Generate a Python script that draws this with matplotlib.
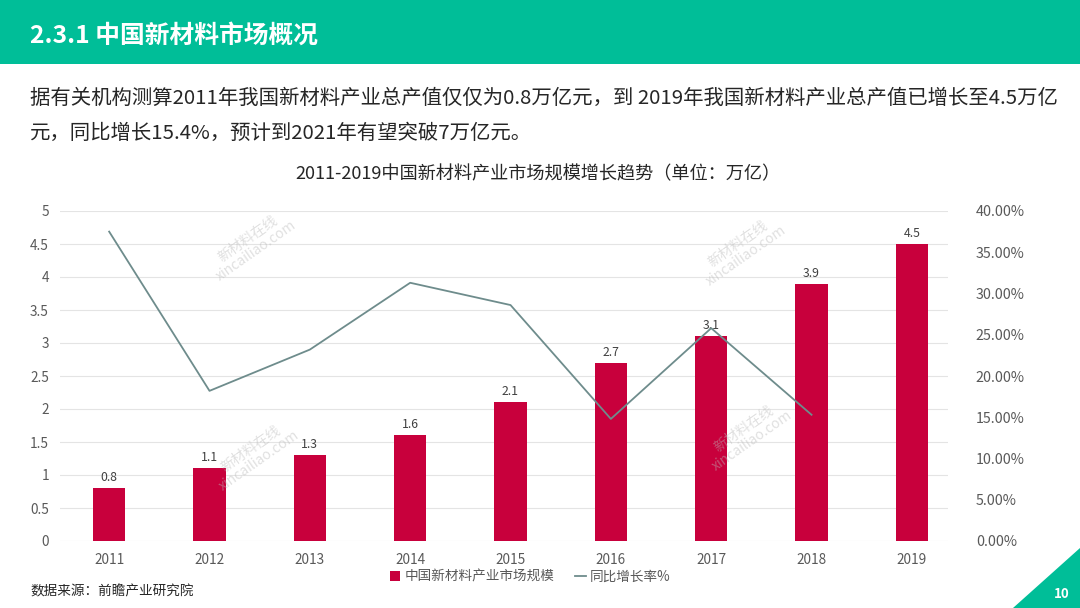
import matplotlib
matplotlib.use('Agg')
import matplotlib.pyplot as plt
from matplotlib.patches import Rectangle, Polygon
from matplotlib.lines import Line2D
from matplotlib.ticker import FuncFormatter, MultipleLocator

plt.rcParams['font.family'] = ['Noto Sans CJK SC', 'DejaVu Sans']

# data
years = ['2011', '2012', '2013', '2014', '2015', '2016', '2017', '2018', '2019']
market_size = [0.8, 1.1, 1.3, 1.6, 2.1, 2.7, 3.1, 3.9, 4.5]
growth_rate = [0.375, 0.182, 0.232, 0.313, 0.286, 0.148, 0.258, 0.153]  # no 2019 value

W, H = 1080, 608
fig = plt.figure(figsize=(W / 100, H / 100), dpi=100)
fig.patch.set_facecolor('white')

def px(x, y):
    return x / W, 1 - y / H

# header band
fig.patches.append(Rectangle((0, 1 - 64 / H), 1, 64 / H, transform=fig.transFigure,
                             facecolor='#00BE98', edgecolor='none', zorder=0))
fig.text(*px(30, 36), '2.3.1 中国新材料市场概况', color='white', fontsize=17.8,
         fontweight='bold', va='center', ha='left')

# body text
fig.text(*px(30, 98), '据有关机构测算2011年我国新材料产业总产值仅仅为0.8万亿元，到 2019年我国新材料产业总产值已增长至4.5万亿',
         color='#262626', fontsize=14.7, va='center', ha='left')
fig.text(*px(30, 133), '元，同比增长15.4%，预计到2021年有望突破7万亿元。',
         color='#262626', fontsize=14.7, va='center', ha='left')

# chart title
fig.text(*px(538, 174), '2011-2019中国新材料产业市场规模增长趋势（单位：万亿）',
         color='#262626', fontsize=13.1, va='center', ha='center')

# axes
ax = fig.add_axes([60 / W, (H - 541) / H, (948 - 60) / W, (541 - 211) / H])
x = list(range(len(years)))
bars = ax.bar(x, market_size, width=0.32, color='#C8003C', zorder=3)
ax.set_xlim(-0.49, 8.36)
ax.set_ylim(0, 5)
ax.yaxis.set_major_locator(MultipleLocator(0.5))
ax.yaxis.set_major_formatter(FuncFormatter(lambda v, p: f'{v:g}'))
ax.set_xticks(x)
ax.set_xticklabels(years)
ax.grid(axis='y', color='#E4E4E4', linewidth=0.8, zorder=0)
for s in ax.spines.values():
    s.set_visible(False)
ax.tick_params(axis='both', length=0, colors='#595959', labelsize=9.8)
ax.tick_params(axis='x', pad=9)
ax.tick_params(axis='y', pad=8)
for xi, v in zip(x, market_size):
    ax.text(xi, v + 0.06, f'{v:g}', ha='center', va='bottom', fontsize=8.8, color='#404040', zorder=4)

ax2 = ax.twinx()
ax2.plot(x[:len(growth_rate)], growth_rate, color='#6E8C8C', linewidth=1.3, zorder=5)
ax2.set_ylim(0, 0.40)
ax2.yaxis.set_major_locator(MultipleLocator(0.05))
ax2.yaxis.set_major_formatter(FuncFormatter(lambda v, p: f'{v * 100:.2f}%'))
for s in ax2.spines.values():
    s.set_visible(False)
ax2.tick_params(axis='y', length=0, colors='#595959', labelsize=10.3, pad=20)

# watermarks
for wx, wy in [(252, 245), (742, 250), (255, 455), (748, 435)]:
    fig.text(*px(wx, wy), '新材料在线\nxincailiao.com', rotation=35, ha='center', va='center',
             fontsize=10, color='#BBBBBB', alpha=0.45, linespacing=1.1, zorder=10)

# legend
handles = [Rectangle((0, 0), 1, 1, facecolor='#C8003C', edgecolor='none'),
           Line2D([0], [0], color='#6E8C8C', linewidth=1.3)]
leg = fig.legend(handles, ['中国新材料产业市场规模', '同比增长率%'], loc='center',
                 bbox_to_anchor=px(530, 577), ncol=2, frameon=False, fontsize=9.8,
                 handlelength=0.8, handleheight=0.8, handletextpad=0.3, columnspacing=1.5)
for t in leg.get_texts():
    t.set_color('#595959')

# source
fig.text(*px(30, 591), '数据来源：前瞻产业研究院', color='#262626', fontsize=9.8, va='center', ha='left')

# page corner
fig.patches.append(Polygon([px(1013, 608), px(1080, 608), px(1080, 548)], closed=True,
                           transform=fig.transFigure, facecolor='#00BE98', edgecolor='none'))
fig.text(*px(1062, 594), '10', color='white', fontsize=9.5, fontweight='bold', va='center', ha='center')

fig.savefig('out.png', dpi=100)
